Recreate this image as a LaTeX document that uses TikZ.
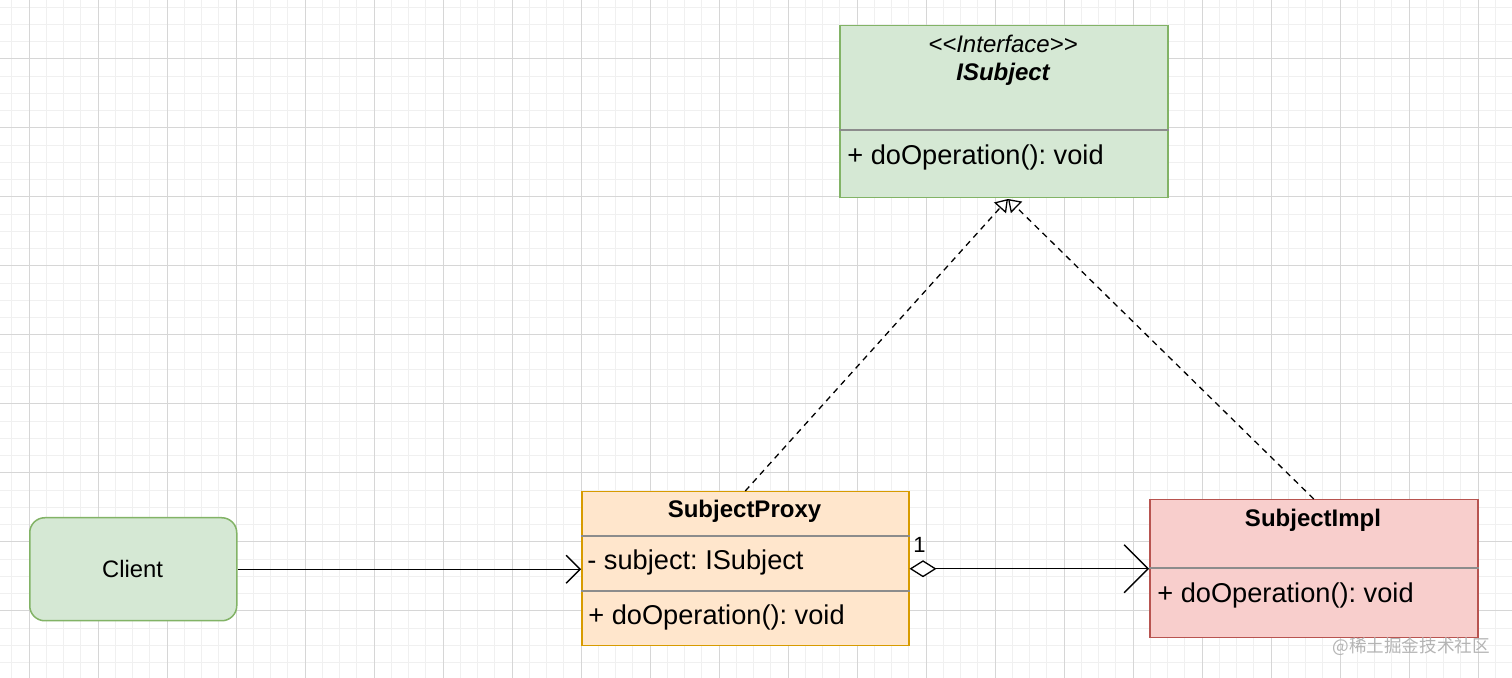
\documentclass[tikz,border=0pt]{standalone}
\usepackage{fontspec}
\setmainfont{Liberation Sans}
\newfontfamily\cjkfont{Noto Sans CJK SC}
\usepackage{tikz}
\usetikzlibrary{arrows.meta,backgrounds,calc}
\definecolor{greenfill}{HTML}{D5E8D4}
\definecolor{greenline}{HTML}{82B366}
\definecolor{orangefill}{HTML}{FFE6CC}
\definecolor{orangeline}{HTML}{D79B00}
\definecolor{redfill}{HTML}{F8CECC}
\definecolor{redline}{HTML}{B85450}
\definecolor{minorgrid}{HTML}{F0F0F0}
\definecolor{majorgrid}{HTML}{D6D6D6}
\definecolor{divline}{HTML}{8C8C8C}
\definecolor{markgray}{HTML}{B4B4B4}
\frenchspacing

\begin{document}
\begin{tikzpicture}[x=0.5pt,y=-0.5pt,
  box/.style={draw, line width=0.75pt, inner sep=0pt, anchor=north west},
  title/.style={inner sep=0pt, anchor=base, font=\fontsize{12}{14}\selectfont\bfseries},
  member/.style={inner sep=0pt, anchor=base west, font=\fontsize{13.6}{16}\selectfont},
  divider/.style={draw=divline, line width=0.6pt},
  link/.style={line width=0.65pt},
  realize/.style={link, dash pattern=on 3pt off 2.5pt, -{Triangle[open,length=6pt,width=8pt]}}]
\useasboundingbox (0,0) rectangle (1512,678);
\fill[white] (0,0) rectangle (1512,678);
\foreach \k in {-1,...,86} {\draw[minorgrid, line width=0.5pt] ({29+17.25*\k},0) -- ({29+17.25*\k},678);}
\foreach \k in {-3,...,35} {\draw[minorgrid, line width=0.5pt] (0,{59+17.25*\k}) -- (1512,{59+17.25*\k});}
\foreach \k in {0,...,21} {\draw[majorgrid, line width=0.5pt] ({29+69*\k},0) -- ({29+69*\k},678);}
\foreach \k in {0,...,8} {\draw[majorgrid, line width=0.5pt] (0,{59+69*\k}) -- (1512,{59+69*\k});}

\node[box, fill=greenfill, draw=greenline, minimum width=164pt, minimum height=86pt] (iface) at (839,25) {};
\draw[divider] ([yshift=-52.5pt]iface.north west) -- ([yshift=-52.5pt]iface.north east);
\node[title, font=\fontsize{12}{14}\selectfont\itshape] (ifacestereo) at (1003,53) {\textless\kern0pt\textless\kern0pt Interface\kern0pt\textgreater\kern0pt\textgreater};
\node[title, font=\fontsize{12}{14}\selectfont\bfseries\itshape] (ifacename) at (1003,80.5) {ISubject};
\node[member] (ifaceop) at (847,165) {+ doOperation(): void};

\node[box, fill=orangefill, draw=orangeline, minimum width=163.5pt, minimum height=77pt] (proxy) at (581,491) {};
\draw[divider] ([yshift=-22.5pt]proxy.north west) -- ([yshift=-22.5pt]proxy.north east);
\draw[divider] ([yshift=-50pt]proxy.north west) -- ([yshift=-50pt]proxy.north east);
\node[title] (proxyname) at (744.5,518) {SubjectProxy};
\node[member] (proxyfield) at (587,570) {- subject: ISubject};
\node[member] (proxyop) at (588,625) {+ doOperation(): void};

\node[box, fill=redfill, draw=redline, minimum width=164pt, minimum height=69pt] (impl) at (1149,499) {};
\draw[divider] ([yshift=-34.5pt]impl.north west) -- ([yshift=-34.5pt]impl.north east);
\node[title] (implname) at (1313,527) {SubjectImpl};
\node[member] (implop) at (1157,603) {+ doOperation(): void};

\node[box, fill=greenfill, draw=greenline, rounded corners=7.5pt, minimum width=103.5pt, minimum height=51.5pt] (client) at (29,517) {};
\node[inner sep=0pt, anchor=base, font=\fontsize{11.9}{14}\selectfont] (clientname) at (132.5,578) {Client};

\coordinate (realtip) at (1008,199);
\draw[realize] (proxy.north) -- (realtip);
\draw[realize] (impl.north) -- (realtip);
\draw[link, -{Straight Barb[length=7pt,width=14pt]}] (client.east) -- (client.east -| proxy.west);
\draw[link, {Diamond[fill=white,length=13.5pt,width=8.5pt]}-{Straight Barb[length=12pt,width=24pt]}] (proxy.east) -- (impl.west);
\node[member, font=\fontsize{11}{13}\selectfont] (multone) at (913,553) {1};

\node[inner sep=0pt, anchor=base west, text=markgray, font=\cjkfont\fontsize{8.8}{10}\selectfont] (mark) at (1332,653) {@稀土掘金技术社区};
\end{tikzpicture}
\end{document}
